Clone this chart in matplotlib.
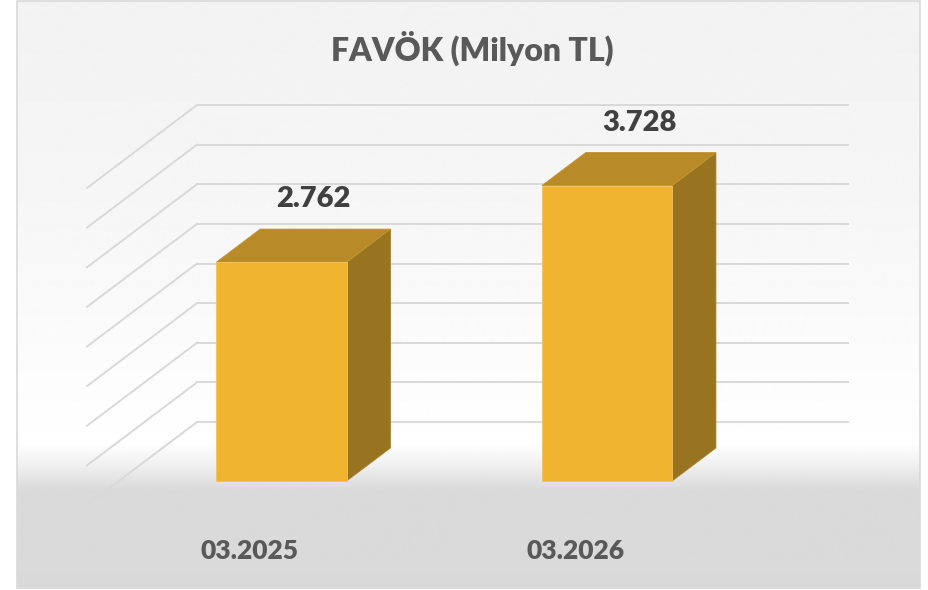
import numpy as np
import matplotlib
matplotlib.use("Agg")
import matplotlib.pyplot as plt
from matplotlib.patches import Polygon, Rectangle

# data
categories = ['03.2025', '03.2026']
values = [2762, 3728]
grid_ticks = list(range(0, 4001, 500))
title = 'FAVÖK (Milyon TL)'

W, H = 929, 590
plt.rcParams['font.family'] = ['Lato', 'DejaVu Sans']

fig = plt.figure(figsize=(W / 100, H / 100), dpi=100)

# background with gradient, Excel-like
bg = fig.add_axes([0, 0, 1, 1])
bg.set_xlim(0, W)
bg.set_ylim(H, 0)
bg.axis('off')
rows = np.arange(1, 589)
shade = np.interp(rows, [1, 200, 430, 443, 465, 490, 588],
                  [242, 246, 254, 255, 240, 218, 217]) / 255.0
grad = np.repeat(shade[:, None], 2, axis=1)
bg.imshow(grad, cmap='gray', vmin=0, vmax=1, extent=[17, 920, 588, 1],
          aspect='auto', interpolation='bilinear')
bg.add_patch(Rectangle((17, 1), 903, 587, fill=False, ec='#d9d9d9', lw=1.2))

# plot area = back wall
ax = fig.add_axes([197 / W, (H - 422) / H, 651 / W, 317 / H])
ax.set_xlim(0, len(categories))
ax.set_ylim(0, 4000)
ax.axis('off')
ax.patch.set_alpha(0)

# oblique depth (full depth of the box in data units)
DX = 110 / 325.5
DY = 83 * 4000 / 317


def proj(x, v, d):
    return x - d * DX, v - d * DY


grid_c = '#d9d9d9'
for g in grid_ticks:
    ax.plot([0, len(categories)], [g, g], color=grid_c, lw=1.4, clip_on=False, zorder=1)
    p0 = proj(0, g, 0)
    p1 = proj(0, g, 1)
    ax.plot([p0[0], p1[0]], [p0[1], p1[1]], color=grid_c, lw=1.4, clip_on=False, zorder=1)

front_c = '#f0b431'
top_c = '#b88a28'
side_c = '#987420'
d_front, d_back = 0.711, 0.313
half = 0.2

for i, (cat, v) in enumerate(zip(categories, values)):
    c = i + 0.5
    x0, x1 = c - half, c + half
    side = [proj(x1, 0, d_front), proj(x1, 0, d_back), proj(x1, v, d_back), proj(x1, v, d_front)]
    top = [proj(x0, v, d_front), proj(x1, v, d_front), proj(x1, v, d_back), proj(x0, v, d_back)]
    front = [proj(x0, 0, d_front), proj(x1, 0, d_front), proj(x1, v, d_front), proj(x0, v, d_front)]
    ax.add_patch(Polygon(side, closed=True, fc=side_c, ec='#a8832e', lw=0.6, clip_on=False, zorder=3))
    ax.add_patch(Polygon(top, closed=True, fc=top_c, ec='#c49430', lw=0.6, clip_on=False, zorder=3))
    ax.add_patch(Polygon(front, closed=True, fc=front_c, ec='#f3c25a', lw=0.6, clip_on=False, zorder=4))

    lbl = f'{v:,}'.replace(',', '.')
    ax.annotate(lbl, proj(c, v, 0.42), xytext=(0, 28), textcoords='offset points',
                ha='center', va='center', fontsize=21, fontweight='heavy',
                color='#404040', annotation_clip=False, zorder=5)
    ax.annotate(cat, proj(c, 0, 1), xytext=(0, -33), textcoords='offset points',
                ha='center', va='center', fontsize=19, fontweight='heavy',
                color='#595959', annotation_clip=False, zorder=5)

fig.text(472 / W, 1 - 48 / H, title, ha='center', va='center', fontsize=23,
         fontweight='heavy', color='#595959')

fig.savefig('out.png', dpi=100)
